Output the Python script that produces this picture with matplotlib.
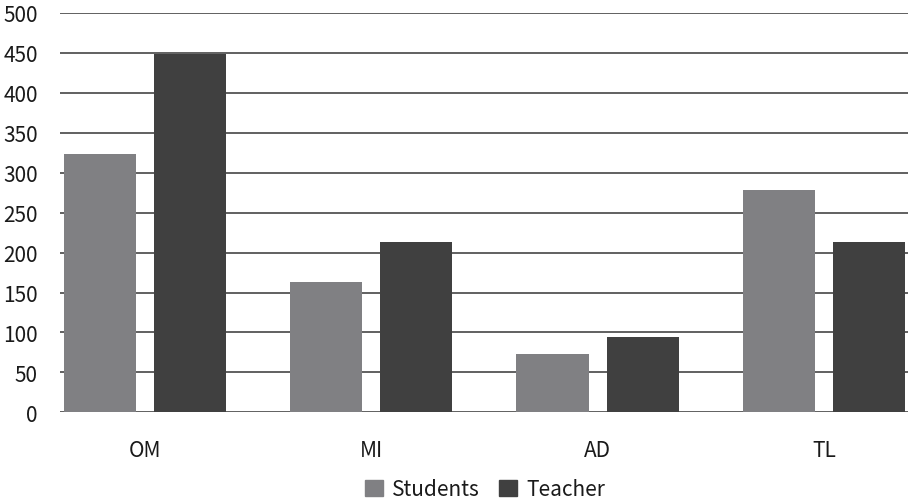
import numpy as np
import matplotlib
matplotlib.use("Agg")
import matplotlib.pyplot as plt
from matplotlib.patches import Patch

plt.rcParams['font.family'] = ['Noto Sans CJK KR', 'DejaVu Sans']

# data
categories = ['OM', 'MI', 'AD', 'TL']
students = [324, 163, 73, 278]
teacher = [449, 213, 94, 213]
y_ticks = [0, 50, 100, 150, 200, 250, 300, 350, 400, 450, 500]

student_color = '#808083'
teacher_color = '#404040'
grid_color = '#606060'

W, H = 912, 502
fig = plt.figure(figsize=(W / 100, H / 100), dpi=100)
ax = fig.add_axes([60 / W, (H - 413.3) / H, (908 - 60) / W, (413.3 - 14) / H])

x = np.arange(len(categories))
width = 0.319
offset = 0.199
ax.bar(x - offset, students, width, color=student_color, zorder=3)
ax.bar(x + offset, teacher, width, color=teacher_color, zorder=3)

ax.set_xlim(-0.376, 3.372)
ax.set_ylim(0, 500)
ax.set_yticks(y_ticks)
ax.set_xticks(x)
ax.set_xticklabels(categories)
ax.yaxis.grid(True, color=grid_color, linewidth=1.4, zorder=0)
ax.set_axisbelow(True)
for s in ax.spines.values():
    s.set_visible(False)
ax.tick_params(axis='both', length=0, labelsize=15, colors='#1a1a1a')
ax.tick_params(axis='y', pad=16)
ax.tick_params(axis='x', pad=19)

handles = [Patch(color=student_color, label='Students'),
           Patch(color=teacher_color, label='Teacher')]
fig.legend(handles=handles, loc='center', bbox_to_anchor=(485 / W, (H - 490) / H),
           ncol=2, frameon=False, fontsize=15, handlelength=0.87, handleheight=0.77,
           handletextpad=0.43, columnspacing=0.9, labelcolor='#1a1a1a')

fig.savefig('out.png', dpi=100)
